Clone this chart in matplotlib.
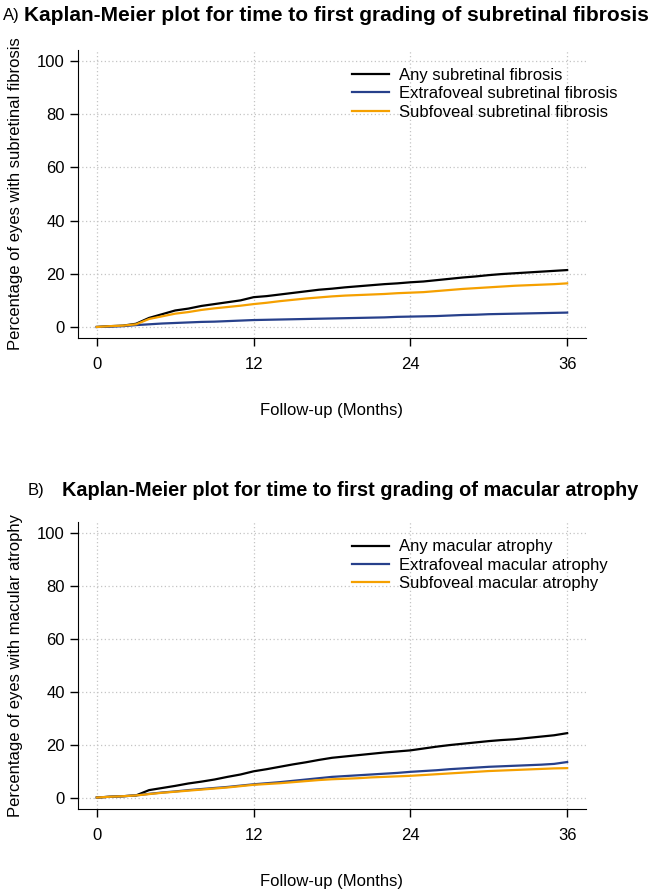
import matplotlib
matplotlib.use('Agg')
import matplotlib.pyplot as plt

plt.rcParams['font.family'] = ['Liberation Sans', 'DejaVu Sans']

months = list(range(0, 37))

# panel A - subretinal fibrosis (%)
fib_any = [0, 0.3, 0.5, 1.2, 3.4, 4.8, 6.2, 6.9, 7.9, 8.6, 9.3, 10.0, 11.2, 11.6, 12.2, 12.8,
           13.4, 14.0, 14.4, 14.9, 15.3, 15.7, 16.1, 16.4, 16.8, 17.1, 17.6, 18.1, 18.6, 19.0,
           19.5, 19.9, 20.2, 20.5, 20.8, 21.1, 21.4]
fib_extra = [0, 0.1, 0.3, 0.7, 1.0, 1.3, 1.5, 1.7, 1.9, 2.0, 2.2, 2.4, 2.6, 2.7, 2.8, 2.9,
             3.0, 3.1, 3.2, 3.3, 3.4, 3.5, 3.6, 3.8, 3.9, 4.0, 4.1, 4.3, 4.5, 4.6,
             4.8, 4.9, 5.0, 5.1, 5.2, 5.3, 5.4]
fib_sub = [0, 0.3, 0.5, 1.0, 3.0, 4.0, 5.0, 5.6, 6.4, 7.0, 7.5, 8.0, 8.6, 9.1, 9.7, 10.2,
           10.7, 11.1, 11.5, 11.8, 12.0, 12.2, 12.4, 12.7, 12.9, 13.1, 13.5, 13.9, 14.3, 14.6,
           14.9, 15.2, 15.5, 15.7, 15.9, 16.1, 16.4]

# panel B - macular atrophy (%)
atr_any = [0, 0.3, 0.5, 0.8, 2.8, 3.6, 4.4, 5.3, 6.0, 6.8, 7.8, 8.7, 9.9, 10.7, 11.6, 12.5,
           13.3, 14.2, 15.0, 15.5, 16.0, 16.5, 17.0, 17.4, 17.8, 18.5, 19.2, 19.8, 20.3, 20.8,
           21.3, 21.7, 22.0, 22.5, 23.0, 23.5, 24.3]
atr_extra = [0, 0.3, 0.5, 0.8, 1.4, 1.9, 2.3, 2.8, 3.2, 3.6, 4.0, 4.5, 5.0, 5.4, 5.8, 6.3,
             6.8, 7.3, 7.8, 8.1, 8.4, 8.7, 9.0, 9.3, 9.7, 10.0, 10.3, 10.7, 11.0, 11.3,
             11.6, 11.8, 12.0, 12.2, 12.4, 12.7, 13.4]
atr_sub = [0, 0.3, 0.5, 0.8, 1.3, 1.8, 2.2, 2.6, 3.0, 3.4, 3.8, 4.3, 4.8, 5.1, 5.4, 5.8,
           6.2, 6.6, 6.9, 7.1, 7.3, 7.6, 7.8, 8.0, 8.2, 8.5, 8.8, 9.1, 9.4, 9.7,
           10.0, 10.2, 10.4, 10.6, 10.8, 11.0, 11.1]

warna = ['black', '#27408B', '#F5A000']


def gambar_panel(ax, seri, label, ylabel):
    for y, lab, c in zip(seri, label, warna):
        ax.plot(months, y, color=c, lw=1.6, label=lab)
    ax.set_xlim(-1.44, 37.44)
    ax.set_ylim(-4.16, 104.16)
    ax.set_xticks([0, 12, 24, 36])
    ax.set_yticks(range(0, 101, 20))
    ax.grid(True, color='#c4c4c4', ls=(0, (1, 2)), lw=0.9)
    ax.spines['top'].set_visible(False)
    ax.spines['right'].set_visible(False)
    ax.tick_params(labelsize=12, length=6, width=1)
    ax.tick_params(axis='x', pad=8)
    ax.set_xlabel('Follow-up (Months)', fontsize=12, labelpad=22)
    ax.set_ylabel(ylabel, fontsize=12, labelpad=10)
    ax.legend(loc='upper left', bbox_to_anchor=(0.51, 0.99), frameon=False,
              fontsize=12, handlelength=2.2, labelspacing=0.2, handletextpad=0.6)


fig = plt.figure(figsize=(6.5, 8.9), dpi=100)
ax1 = fig.add_axes([0.12, 0.6202, 0.7815, 0.3236])
ax2 = fig.add_axes([0.12, 0.0915, 0.7815, 0.3225])

gambar_panel(ax1, [fib_any, fib_extra, fib_sub],
             ['Any subretinal fibrosis', 'Extrafoveal subretinal fibrosis', 'Subfoveal subretinal fibrosis'],
             'Percentage of eyes with subretinal fibrosis')
gambar_panel(ax2, [atr_any, atr_extra, atr_sub],
             ['Any macular atrophy', 'Extrafoveal macular atrophy', 'Subfoveal macular atrophy'],
             'Percentage of eyes with macular atrophy')

fig.text(0.005, 0.983, 'A)', fontsize=12, va='center')
fig.text(0.037, 0.983, 'Kaplan-Meier plot for time to first grading of subretinal fibrosis',
         fontsize=15, fontweight='bold', va='center')
fig.text(0.043, 0.449, 'B)', fontsize=12, va='center')
fig.text(0.095, 0.449, 'Kaplan-Meier plot for time to first grading of macular atrophy',
         fontsize=14.3, fontweight='bold', va='center')

plt.savefig('out.png', dpi=100)
plt.close()
